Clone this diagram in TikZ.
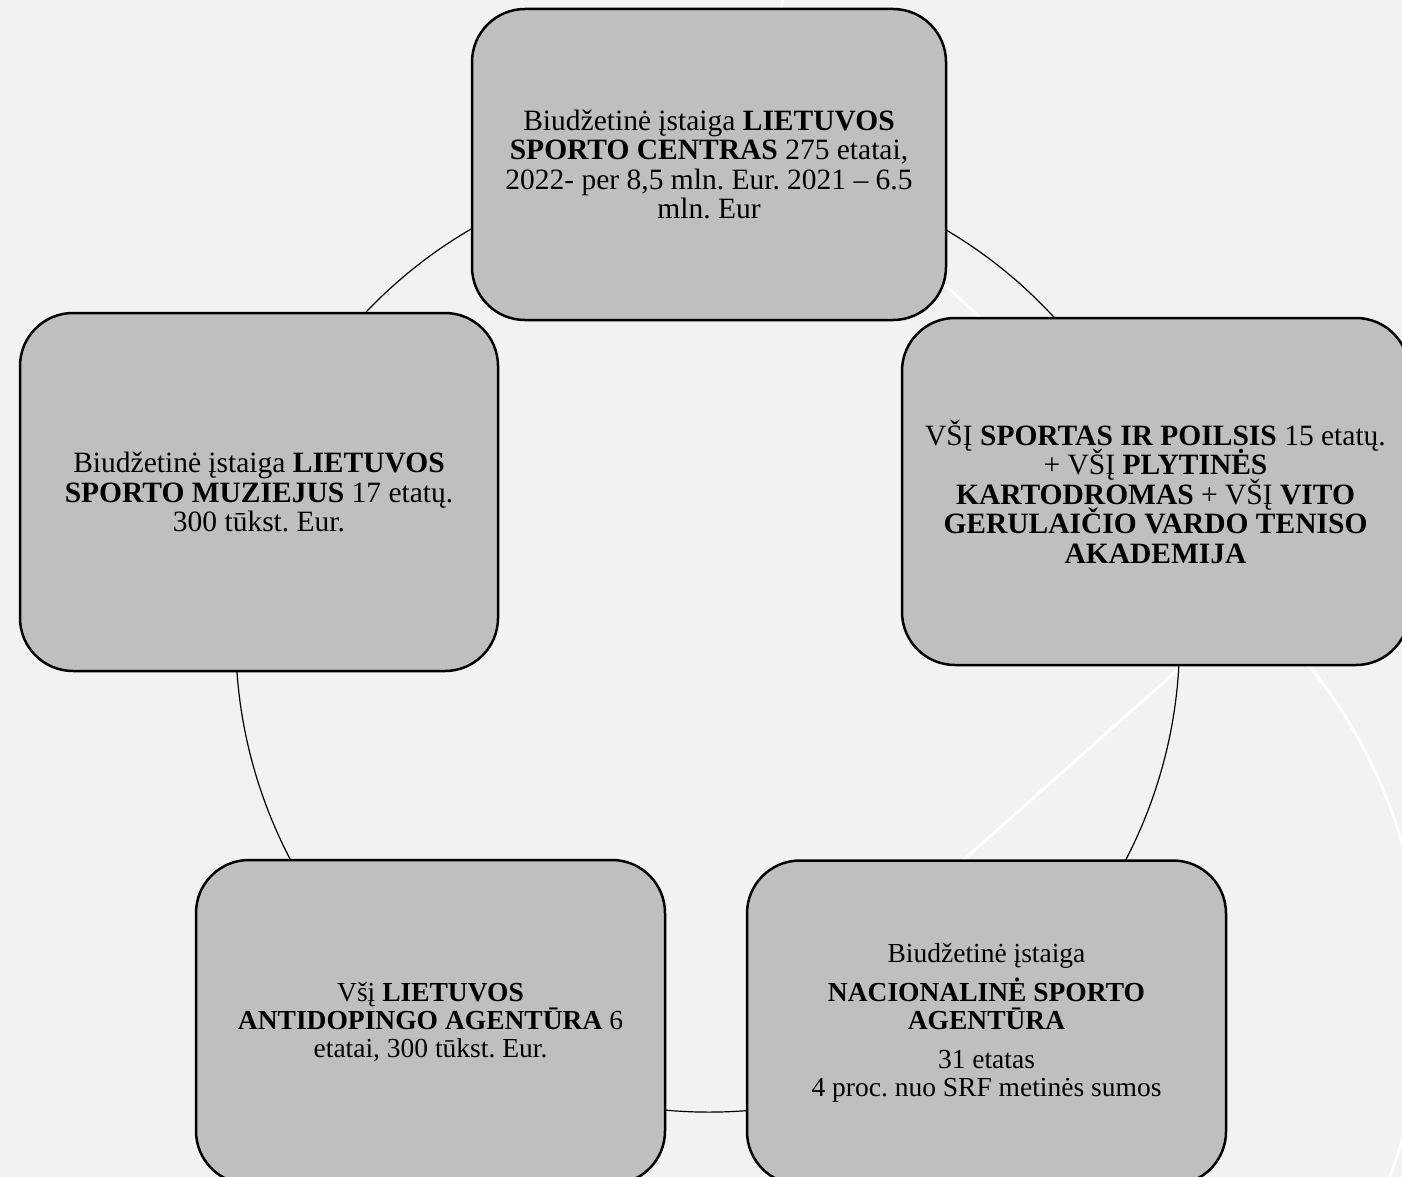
\documentclass[tikz,border=0pt]{standalone}
\usepackage{fontspec}
\setmainfont{Liberation Serif}
\usetikzlibrary{backgrounds}
\definecolor{bgc}{HTML}{F2F2F2}
\definecolor{boxc}{HTML}{BFBFBF}
\frenchspacing
\lineskiplimit=-100pt
\newcommand\mybigfont{\fontsize{29.5}{29.5}\selectfont\lineskiplimit=-100pt\relax}
\newcommand\mysmallfont{\fontsize{27.5}{28}\selectfont\lineskiplimit=-100pt\relax}
\begin{document}
\begin{tikzpicture}[x=1pt,y=-1pt,
  box/.style={draw=black, line width=2.5pt, fill=boxc, rounded corners=53pt, inner sep=0pt, align=center, text=black},
  bigtxt/.style={font=\mybigfont},
  smalltxt/.style={font=\mysmallfont},
  link/.style={line width=1.2pt, draw=black},
  deco/.style={draw=white, line width=3pt}]
\useasboundingbox (0,0) rectangle (1402,1177);
\node[box,bigtxt,minimum width=474pt,minimum height=311pt] (top) at (709,164.5)
  {Biudžetinė įstaiga \textbf{LIETUVOS}\\ \textbf{SPORTO CENTRAS} 275 etatai,\\ 2022- per 8,5 mln. Eur. 2021 – 6.5\\ mln. Eur};
\node[box,bigtxt,minimum width=478pt,minimum height=358pt] (left) at (259,492)
  {Biudžetinė įstaiga \textbf{LIETUVOS}\\ \textbf{SPORTO MUZIEJUS} 17 etatų.\\ 300 tūkst. Eur.};
\node[box,bigtxt,minimum width=507pt,minimum height=347pt] (right) at (1155.5,491.5)
  {VŠĮ \textbf{SPORTAS IR POILSIS} 15 etatų.\\ + VŠĮ \textbf{PLYTINĖS}\\ \textbf{KARTODROMAS} + VŠĮ \textbf{VITO}\\ \textbf{GERULAIČIO VARDO TENISO}\\ \textbf{AKADEMIJA}};
\node[box,smalltxt,minimum width=469pt,minimum height=324pt] (adoping) at (430.5,1022)
  {Všį \textbf{LIETUVOS}\\ \textbf{ANTIDOPINGO AGENTŪRA} 6\\ etatai, 300 tūkst. Eur.};
\node[box,smalltxt,minimum width=479pt,minimum height=324pt] (nsa) at (986.5,1022.5)
  {Biudžetinė įstaiga\\[11pt] \textbf{NACIONALINĖ SPORTO}\\ \textbf{AGENTŪRA}\\[11pt] 31 etatas\\ 4 proc. nuo SRF metinės sumos};
\begin{scope}[on background layer]
  \clip (0,0) rectangle (1402,1177);
  \fill[bgc] (0,0) rectangle (1402,1177);
  \draw[deco] (784,-5) -- (779,20);
  \draw[deco] (930,271) -- (1010,345.5);
  \draw[deco] (1190,659) -- (941,880);
  \draw[deco] (1238,593) arc[start angle=-50, end angle=40, radius=520];
  \draw[link] (top.center) to[bend right=36, looseness=0.94] (left.center);
  \draw[link] (left.center) to[bend right=36, looseness=0.94] (adoping.center);
  \draw[link] (adoping.center) to[bend right=36, looseness=0.94] (nsa.center);
  \draw[link] (nsa.center) to[bend right=36, looseness=0.94] (right.center);
  \draw[link] (right.center) to[bend right=36, looseness=0.94] (top.center);
\end{scope}
\end{tikzpicture}
\end{document}
